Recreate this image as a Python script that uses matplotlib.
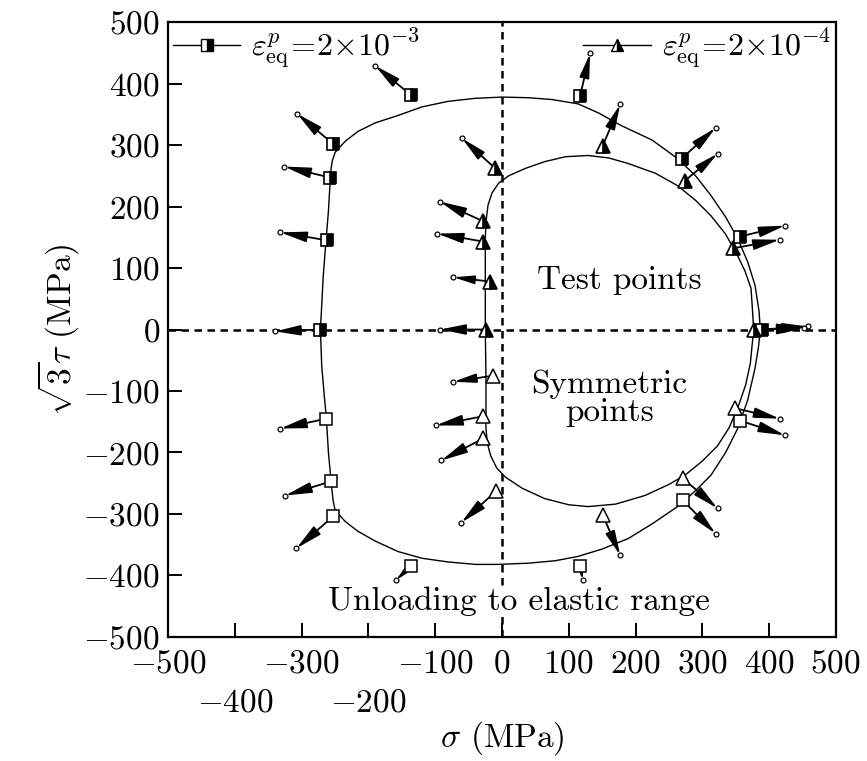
import numpy as np
import matplotlib.pyplot as plt
from matplotlib.lines import Line2D

plt.rcParams['font.family'] = 'cmr10'
plt.rcParams['mathtext.fontset'] = 'cm'
plt.rcParams['axes.unicode_minus'] = False

# yield surface, eps_eq = 2e-3 (outer loop)
outer_sig = [387, 385, 379, 368, 353, 335, 313, 290, 263, 225, 178, 145, 114, 75, 39, 0, -40, -81, -120,
             -156, -190, -216, -235, -250, -254, -256, -258, -260, -264, -268, -270, -272,
             -270, -266, -263, -260, -256, -253, -250, -235, -216, -190, -156, -120, -81, -40, -6,
             40, 80, 114, 150, 189, 225, 263, 290, 313, 335, 353, 368, 379, 384, 387]
outer_tau = [0, 30, 72, 110, 148, 183, 218, 250, 278, 308, 332, 352, 367, 374, 377, 378, 376, 371, 362,
             348, 336, 322, 306, 288, 275, 262, 230, 192, 140, 83, 40, 0,
             -60, -110, -145, -200, -247, -278, -294, -312, -328, -344, -361, -372, -378, -382, -382,
             -380, -376, -369, -357, -340, -316, -288, -262, -237, -200, -161, -115, -63, -30, 0]

# yield surface, eps_eq = 2e-4 (inner loop)
inner_sig = [377, 375, 373, 364, 353, 335, 313, 290, 263, 230, 189, 160, 129, 95, 64, 35, 10, -5, -15,
             -21, -24, -25, -25, -25, -24, -24, -22, -17, -8, 5, 30, 64, 100, 129, 170, 214, 250,
             274, 300, 323, 340, 353, 365, 372, 377]
inner_tau = [0, 35, 67, 95, 120, 155, 185, 210, 234, 254, 270, 279, 283, 281, 273, 262, 250, 238, 222,
             202, 175, 148, 80, 0, -80, -161, -185, -205, -225, -240, -258, -275, -285, -288, -284, -270, -252,
             -237, -214, -189, -160, -128, -90, -55, 0]

# square points (2e-3), test points (upper) and symmetric points (lower)
sq_test_sig = [-136, 117, -253, -257, -262, -272, 269, 356, 390]
sq_test_tau = [381, 380, 302, 247, 145, 0, 278, 151, 0]
sq_test_tip_sig = [-190, 132, -307, -326, -332, -340, 320, 424, 458]
sq_test_tip_tau = [429, 449, 351, 265, 158, -3, 328, 169, 5]

sq_sym_sig = [-263, -256, -253, -136, 117, 271, 356]
sq_sym_tau = [-145, -247, -304, -384, -384, -278, -148]
sq_sym_tip_sig = [-332, -325, -308, -159, 121, 320, 424]
sq_sym_tip_tau = [-161, -270, -356, -408, -408, -332, -172]

# triangle points (2e-4)
tr_test_sig = [-10, -28, -28, -18, -24, 151, 274, 346, 378]
tr_test_tau = [262, 176, 143, 78, 0, 299, 242, 132, 0]
tr_test_tip_sig = [-60, -93, -97, -73, -93, 177, 323, 416, 452]
tr_test_tip_tau = [311, 208, 156, 85, 0, 366, 286, 146, 2]

tr_sym_sig = [-13, -28, -28, -9, 151, 271, 349]
tr_sym_tau = [-75, -141, -177, -263, -302, -242, -128]
tr_sym_tip_sig = [-73, -99, -91, -61, 177, 323, 416]
tr_sym_tip_tau = [-85, -156, -213, -314, -367, -291, -145]

fs = 24

fig = plt.figure(figsize=(8.67, 7.61), dpi=100)
ax = fig.add_axes([0.194, 0.163, 0.770, 0.808])
ax.set_xlim(-500, 500)
ax.set_ylim(-500, 500)

ax.axhline(0, color='k', lw=1.8, dashes=(3, 2.2), zorder=1)
ax.axvline(0, color='k', lw=1.8, dashes=(3, 2.2), zorder=1)

ax.plot(outer_sig, outer_tau, color='k', lw=1.0, zorder=2)
ax.plot(inner_sig, inner_tau, color='k', lw=1.0, zorder=2)

def arrows(x0, y0, x1, y1):
	for a, b, c, d in zip(x0, y0, x1, y1):
		p0 = ax.transData.transform((a, b))
		p1 = ax.transData.transform((c, d))
		L = np.hypot(*(p1 - p0)) * 72 / fig.dpi
		ms = min(19, L * 0.55)
		ax.annotate('', xy=(c, d), xytext=(a, b),
		            arrowprops=dict(arrowstyle='-|>,head_length=0.85,head_width=0.17',
		                            mutation_scale=ms, color='k', lw=1.3,
		                            shrinkA=0, shrinkB=0), zorder=3)
		ax.plot(c, d, 'o', ms=3.5, mfc='white', mec='k', mew=0.9, zorder=4)

arrows(sq_test_sig, sq_test_tau, sq_test_tip_sig, sq_test_tip_tau)
arrows(sq_sym_sig, sq_sym_tau, sq_sym_tip_sig, sq_sym_tip_tau)
arrows(tr_test_sig, tr_test_tau, tr_test_tip_sig, tr_test_tip_tau)
arrows(tr_sym_sig, tr_sym_tau, tr_sym_tip_sig, tr_sym_tip_tau)

half = dict(ls='none', mec='k', mew=1.2, mfc='k', mfcalt='white', fillstyle='right', zorder=5)
opn = dict(ls='none', mec='k', mew=1.1, mfc='white', zorder=5)
ax.plot(sq_test_sig, sq_test_tau, 's', ms=9, **half)
ax.plot(sq_sym_sig, sq_sym_tau, 's', ms=9, **opn)
ax.plot(tr_test_sig, tr_test_tau, '^', ms=10, **half)
ax.plot(tr_sym_sig, tr_sym_tau, '^', ms=10, **opn)

ax.text(175, 80, 'Test points', fontsize=fs, ha='center', va='center')
ax.text(161, -112, 'Symmetric\npoints', fontsize=fs, ha='center', va='center', linespacing=0.95)
ax.text(25, -442, 'Unloading to elastic range', fontsize=fs, ha='center', va='center', zorder=6,
        bbox=dict(facecolor='white', edgecolor='none', pad=0.5))

h1 = Line2D([], [], color='k', lw=1.0, marker='s', ms=8, mec='k', mfc='k', mfcalt='white', fillstyle='right')
h2 = Line2D([], [], color='k', lw=1.0, marker='^', ms=9, mec='k', mfc='k', mfcalt='white', fillstyle='right')
legkw = dict(frameon=False, fontsize=fs - 1, handlelength=2.1, handletextpad=0.35,
             borderaxespad=0.05, borderpad=0.1)
leg1 = ax.legend([h1], [r'$\varepsilon_{\rm eq}^{p}\!=\!2{\times}10^{-3}$'], loc='upper left', **legkw)
ax.add_artist(leg1)
ax.legend([h2], [r'$\varepsilon_{\rm eq}^{p}\!=\!2{\times}10^{-4}$'], loc='upper right', **legkw)

yt = list(range(-500, 501, 100))
ax.set_yticks(yt, [f'${v}$' for v in yt])
xt_major = [-500, -300, -100, 0, 100, 200, 300, 400, 500]
xt_minor = [-400, -200]
ax.set_xticks(xt_major, [f'${v}$' for v in xt_major])
ax.set_xticks(xt_minor, [f'${v}$' for v in xt_minor], minor=True)
ax.tick_params(which='both', direction='in', length=10, width=1.4, labelsize=fs,
               top=False, right=False)
ax.tick_params(axis='x', which='major', pad=9)
ax.tick_params(axis='x', which='minor', pad=37)
ax.tick_params(axis='y', pad=6)
for s in ax.spines.values():
	s.set_linewidth(1.6)

ax.set_xlabel(r'$\sigma$ (MPa)', fontsize=fs, labelpad=1)
ax.set_ylabel(r'$\sqrt{3}\tau$ (MPa)', fontsize=fs, labelpad=2)

fig.savefig('out.png', dpi=100)
